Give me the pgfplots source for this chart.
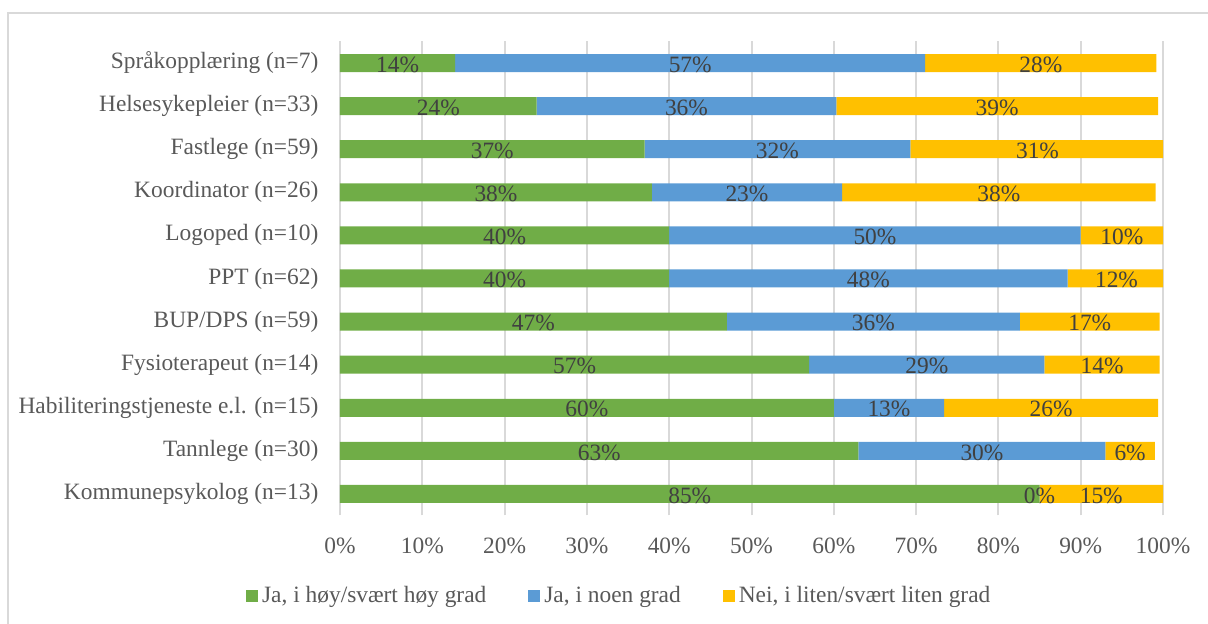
\documentclass[border=0pt]{standalone}
\usepackage{fontspec}
\setmainfont{Liberation Serif}
\usepackage{pgfplots}
\usepackage{pgfplotstable}
\pgfplotsset{compat=1.18}

\definecolor{cgreen}{HTML}{70AD47}
\definecolor{cblue}{HTML}{5B9BD5}
\definecolor{cyellow}{HTML}{FFC000}
\definecolor{gridcol}{HTML}{D9D9D9}
\definecolor{textcol}{HTML}{595959}
\definecolor{labcol}{HTML}{404040}

% y: row (0 = bottom); g/b/n: bar lengths; lg/lb/ln: printed labels
\pgfplotstableread{
y g b n lg lb ln
0 85 0 15 85 0 15
1 63 30 6 63 30 6
2 60 13.4 26 60 13 26
3 57 28.6 14 57 29 14
4 47 35.6 17 47 36 17
5 40 48.4 11.9 40 48 12
6 40 50 10 40 50 10
7 37.9 23.1 38.1 38 23 38
8 37 32.3 30.9 37 32 31
9 23.9 36.4 39.1 24 36 39
10 14 57.1 28.1 14 57 28
}\data

\begin{document}
\begin{tikzpicture}
\useasboundingbox (-170pt,-54.25pt) rectangle (434pt,257.75pt);
\draw[gridcol, line width=1pt] (-166pt,-54.25pt) -- (-166pt,251.25pt) -- (434pt,251.25pt);

\begin{axis}[
    scale only axis,
    width=411.5pt, height=237pt,
    at={(0,0)}, anchor=south west,
    xbar stacked, bar width=9pt,
    xmin=0, xmax=100, ymin=-0.5, ymax=10.5,
    xtick={0,10,...,100},
    xticklabel={\pgfmathprintnumber{\tick}\%},
    ytick={0,...,10},
    yticklabels={Kommunepsykolog (n=13), Tannlege (n=30),
        Habiliteringstjeneste e.l. (n=15), Fysioterapeut (n=14),
        BUP/DPS (n=59), PPT (n=62), Logoped (n=10), Koordinator (n=26),
        Fastlege (n=59), Helsesykepleier (n=33), Språkopplæring (n=7)},
    xmajorgrids, grid style={gridcol, line width=1pt},
    axis line style={draw=none}, major tick length=0pt,
    tick label style={font=\fontsize{11.7}{14}\selectfont, text=textcol},
    xticklabel style={anchor=center, yshift=-15.25pt},
    yticklabel style={xshift=-7.3pt},
    /pgf/number format/assume math mode=true,
    legend columns=3,
    legend style={draw=none, at={(0.3405,-0.17)}, anchor=center,
        font=\fontsize{11.7}{14}\selectfont, text=textcol,
        /tikz/every even column/.append style={column sep=19pt}},
    legend cell align=left,
    legend image code/.code={\fill[#1] (-1pt,-3pt) rectangle (5pt,3pt);},
]
\addplot[fill=cgreen, draw=none] table[x=g, y=y] {\data};
\addlegendentry{Ja, i høy/svært høy grad}
\addplot[fill=cblue, draw=none] table[x=b, y=y] {\data};
\addlegendentry{Ja, i noen grad}
\addplot[fill=cyellow, draw=none] table[x=n, y=y] {\data};
\addlegendentry{Nei, i liten/svært liten grad}
\end{axis}

% segment labels
\begin{axis}[
    scale only axis,
    width=411.5pt, height=237pt,
    at={(0,0)}, anchor=south west,
    xmin=0, xmax=100, ymin=-0.5, ymax=10.5,
    hide axis,
    /pgf/number format/assume math mode=true,
    nodes near coords={\pgfmathprintnumber[fixed,precision=0]{\pgfplotspointmeta}\%},
    nodes near coords align={center},
    every node near coord/.append style={font=\fontsize{11.7}{14}\selectfont, text=labcol, inner sep=0pt, yshift=-0.8pt},
    point meta=explicit,
]
\addplot[only marks, mark=text, text mark={}]
    table[x expr=\thisrow{g}/2, y=y, meta=lg] {\data};
\addplot[only marks, mark=text, text mark={}]
    table[x expr=\thisrow{g}+\thisrow{b}/2, y=y, meta=lb] {\data};
\addplot[only marks, mark=text, text mark={}]
    table[x expr=\thisrow{g}+\thisrow{b}+\thisrow{n}/2, y=y, meta=ln] {\data};
\end{axis}
\end{tikzpicture}
\end{document}
